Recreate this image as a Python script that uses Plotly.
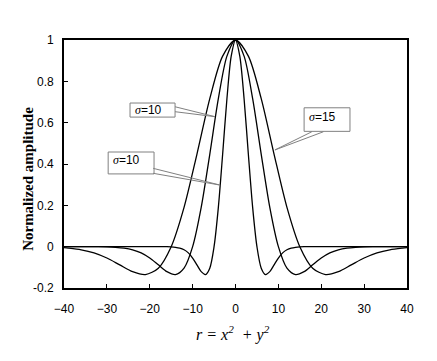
import plotly.graph_objects as go

# Half profiles (r >= 0); curves are symmetric about r=0
r_narrow = [0, 1, 2, 3, 4, 5, 6, 7, 8, 9, 10, 11, 12, 13, 14, 15, 16, 20, 25, 30, 35, 40]
y_narrow = [1.0, 0.922, 0.716, 0.447, 0.190, 0.0, -0.104, -0.135, -0.121, -0.088, -0.055,
            -0.030, -0.015, -0.007, -0.003, -0.001, 0.0, 0.0, 0.0, 0.0, 0.0, 0.0]

r_mid = [0, 2, 4, 6, 8, 10, 12, 14, 16, 18, 20, 22, 24, 26, 28, 30, 32, 36, 40]
y_mid = [1.0, 0.922, 0.716, 0.447, 0.190, 0.0, -0.104, -0.135, -0.121, -0.088, -0.055,
         -0.030, -0.015, -0.007, -0.003, -0.001, 0.0, 0.0, 0.0]

r_wide = [0, 3, 6, 9, 12, 15, 18, 21, 24, 27, 30, 33, 36, 39, 40]
y_wide = [1.0, 0.922, 0.716, 0.447, 0.190, 0.0, -0.104, -0.135, -0.121, -0.088, -0.055,
          -0.030, -0.015, -0.007, -0.005]

x_ticks = [-40, -30, -20, -10, 0, 10, 20, 30, 40]
y_ticks = [-0.2, 0, 0.2, 0.4, 0.6, 0.8, 1]
y_tick_text = ["-0.2", "0", "0.2", "0.4", "0.6", "0.8", "1"]


def mirror(r, y):
    xs = [-v for v in reversed(r[1:])] + list(r)
    ys = list(reversed(y[1:])) + list(y)
    return xs, ys


fig = go.Figure()
for r, y in [(r_narrow, y_narrow), (r_mid, y_mid), (r_wide, y_wide)]:
    xs, ys = mirror(r, y)
    fig.add_trace(go.Scatter(x=xs, y=ys, mode="lines",
                             line=dict(color="black", width=1.3, shape="spline", smoothing=0.8),
                             showlegend=False, hoverinfo="skip"))

tickfont = dict(family="Liberation Sans, Arial, sans-serif", size=12, color="black")
fig.update_xaxes(range=[-40, 40], tickvals=x_ticks, ticks="inside", ticklen=4, tickwidth=1,
                 tickcolor="black", showline=True, linecolor="black", linewidth=1.6, mirror=True,
                 showgrid=False, zeroline=False, tickfont=tickfont, ticklabelstandoff=9)
fig.update_yaxes(range=[-0.2, 1], tickvals=y_ticks, ticktext=y_tick_text, ticks="inside",
                 ticklen=4, tickwidth=1, tickcolor="black", showline=True, linecolor="black",
                 linewidth=1.6, mirror=True, showgrid=False, zeroline=False, tickfont=tickfont,
                 ticklabelstandoff=6)

gray = "#808080"
shapes = []
# callout boxes
for x0, x1, y0, y1 in [(-24.6, -14.1, 0.627, 0.695), (-29.7, -19.0, 0.352, 0.458),
                       (16.0, 26.7, 0.558, 0.672)]:
    shapes.append(dict(type="rect", xref="x", yref="y", x0=x0, x1=x1, y0=y0, y1=y1,
                       line=dict(color=gray, width=1), fillcolor="white", layer="above"))
# callout pointers
for (ax, ay), (tx, ty), (bx, by) in [((-14.1, 0.677), (-4.8, 0.629), (-14.1, 0.653)),
                                     ((-19.2, 0.379), (-3.6, 0.298), (-19.2, 0.355)),
                                     ((17.8, 0.556), (9.2, 0.468), (20.5, 0.556))]:
    shapes.append(dict(type="path", xref="x", yref="y",
                       path=f"M {ax},{ay} L {tx},{ty} L {bx},{by}",
                       line=dict(color=gray, width=1), layer="above"))

lab_font = dict(family="Liberation Sans, Arial, sans-serif", size=12, color="black")
annotations = []
for x, y, num in [(-20.4, 0.661, "10"), (-25.4, 0.419, "10"), (20.2, 0.629, "15")]:
    annotations.append(dict(x=x, y=y, xref="x", yref="y", showarrow=False,
                            xanchor="center", yanchor="middle",
                            text=f"<i><span style='font-family:Liberation Serif'>σ</span></i>={num}",
                            font=lab_font))

annotations.append(dict(x=-0.105, y=0.44, xref="paper", yref="paper", showarrow=False,
                        xanchor="center", yanchor="middle",
                        textangle=-90, text="<b>Normalized amplitude</b>",
                        font=dict(family="Liberation Serif, Times New Roman, serif", size=15,
                                  color="black")))
annotations.append(dict(x=0.493, y=-0.185, xref="paper", yref="paper", showarrow=False,
                        xanchor="center", yanchor="middle",
                        text="<i>r = x<sup>2</sup>  + y<sup>2</sup></i>",
                        font=dict(family="Liberation Serif, Times New Roman, serif", size=16,
                                  color="black")))

# the page body adds an 8px offset, so the figure is 8px smaller on each axis
fig.update_layout(width=429, height=353, margin=dict(l=56, r=30, t=32, b=73),
                  paper_bgcolor="white", plot_bgcolor="white", shapes=shapes,
                  annotations=annotations)

fig.write_html("out.html")
